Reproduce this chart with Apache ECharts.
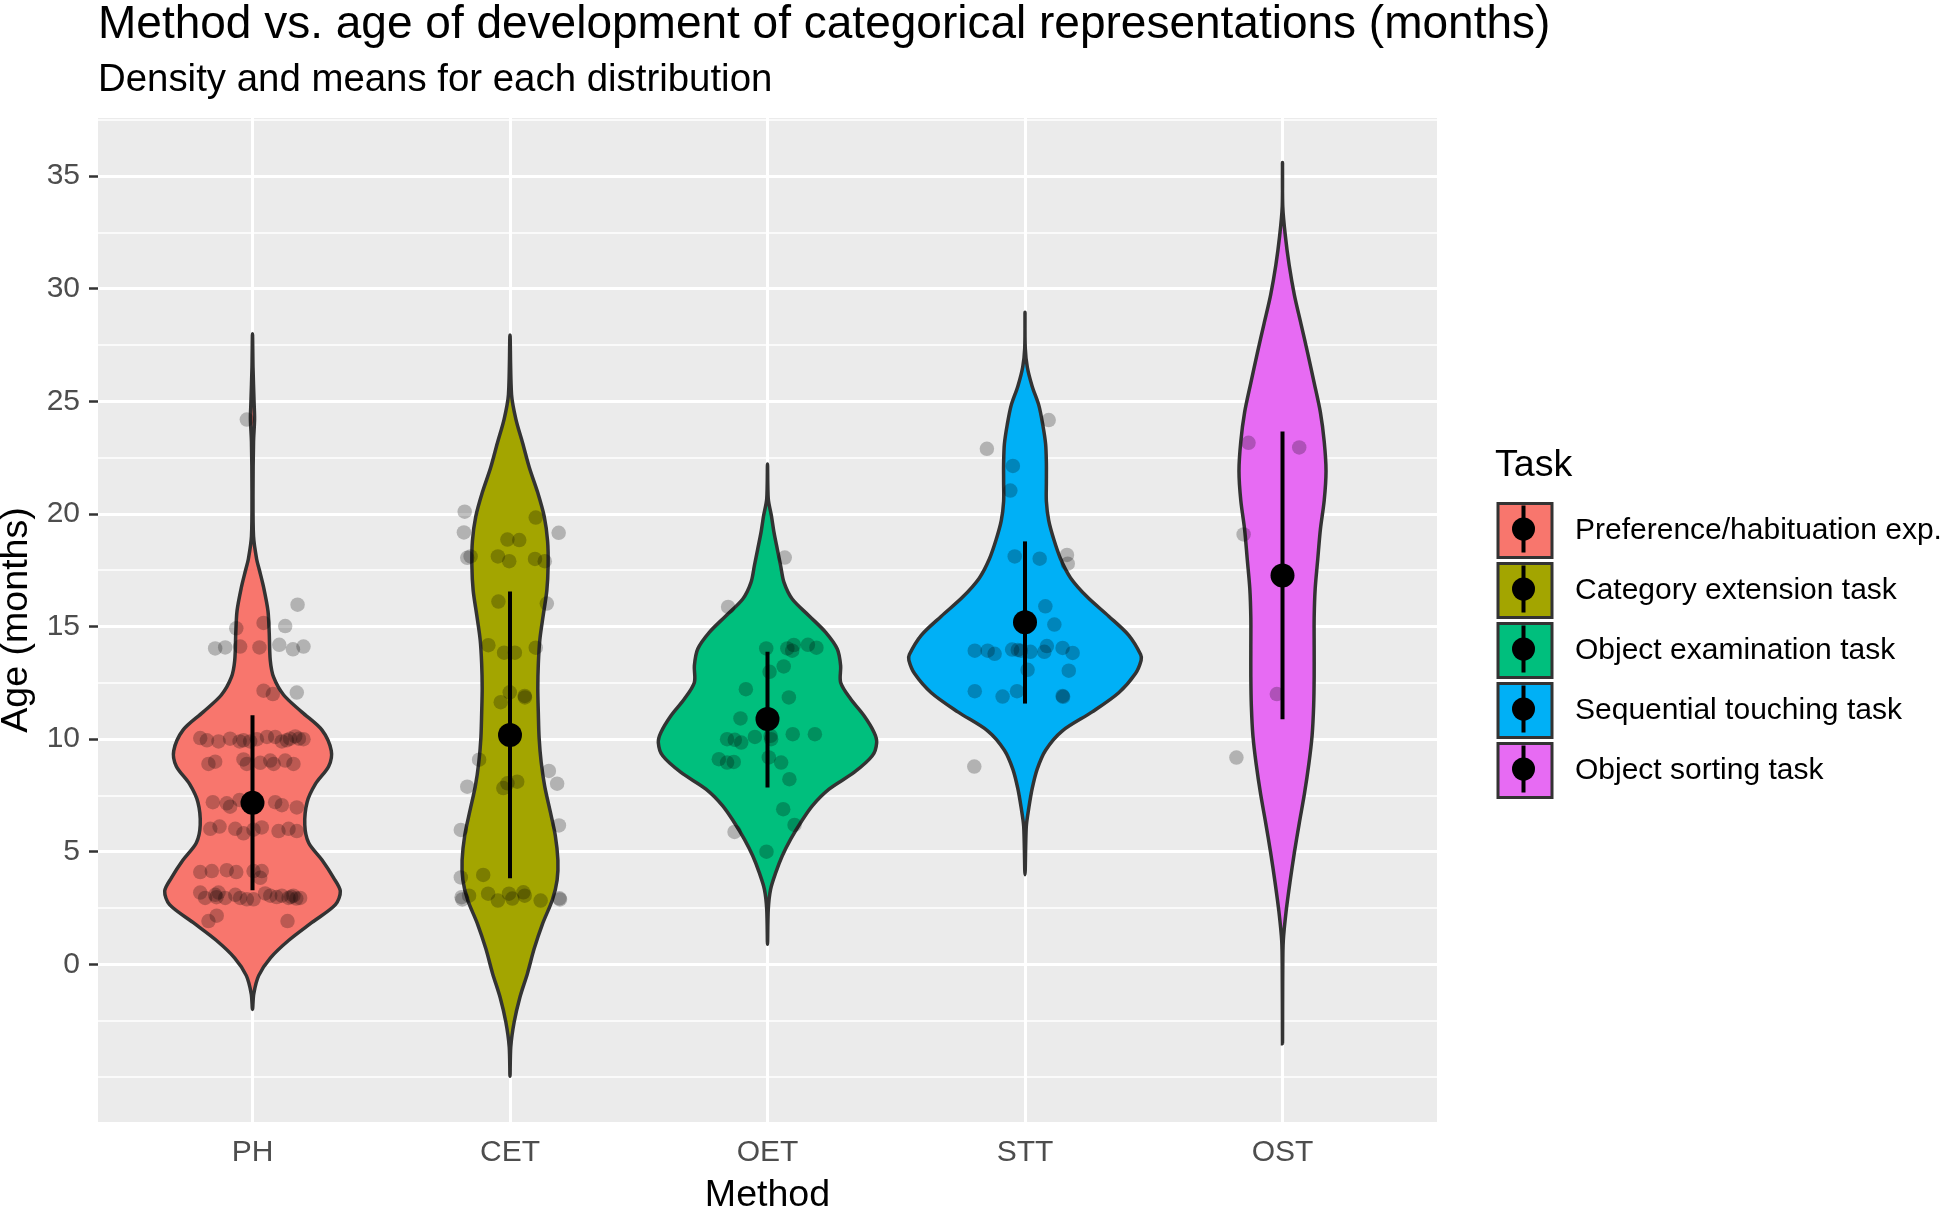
<!DOCTYPE html>
<html><head><meta charset="utf-8">
<script src="https://cdn.jsdelivr.net/npm/echarts@6/dist/echarts.min.js"></script>
<style>html,body{margin:0;padding:0;background:#fff}#chart{width:1946px;height:1209px}</style>
</head><body><div id="chart"></div>
<script>
// ---------- data ----------
const categories = ['PH', 'CET', 'OET', 'STT', 'OST'];
const taskNames = ['Preference/habituation exp.', 'Category extension task', 'Object examination task', 'Sequential touching task', 'Object sorting task'];
const yTickValues = [0, 5, 10, 15, 20, 25, 30, 35];
const yMinorValues = [-5, -2.5, 2.5, 7.5, 12.5, 17.5, 22.5, 27.5, 32.5, 37.5];
const xTickValues = [1, 2, 3, 4, 5];

const meanAge = [7.17, 10.18, 10.89, 15.19, 17.27];
const lowerAge = [3.29, 3.82, 7.85, 11.58, 10.88];
const upperAge = [11.06, 16.55, 13.88, 18.78, 23.66];

// violin outlines: [age, half width in category units]
const phDensity = [[28.0,0],[26.5,0.002],[25.0,0.006],[24.2,0.008],[23.2,0.004],[21.0,0.002],[19.0,0.004],[18.0,0.016],[17.5,0.027],[16.7,0.044],[15.7,0.060],[14.7,0.065],[13.5,0.069],[12.75,0.082],[11.96,0.121],[11.2,0.192],[10.4,0.270],[9.48,0.306],[8.8,0.296],[8.0,0.244],[7.2,0.212],[6.2,0.203],[5.4,0.218],[4.63,0.270],[3.84,0.315],[3.25,0.341],[2.65,0.322],[1.86,0.231],[1.07,0.141],[0.28,0.069],[-0.5,0.024],[-1.3,0.005],[-2.0,0]];
const cetDensity = [[27.95,0],[25.3,0.006],[24.2,0.023],[23.15,0.049],[22.06,0.075],[20.97,0.107],[19.88,0.133],[18.79,0.146],[17.7,0.148],[16.6,0.143],[15.5,0.129],[14.43,0.116],[13.34,0.110],[12.25,0.108],[11.16,0.110],[10.07,0.113],[8.98,0.121],[7.89,0.135],[6.8,0.156],[5.71,0.176],[4.62,0.186],[3.75,0.183],[2.88,0.165],[1.79,0.126],[0.7,0.094],[-0.39,0.068],[-1.48,0.038],[-2.57,0.016],[-3.66,0.003],[-4.97,0]];
const oetDensity = [[22.22,0],[20.67,0.003],[19.93,0.015],[19.19,0.025],[18.44,0.038],[17.7,0.051],[16.96,0.064],[16.22,0.096],[15.48,0.161],[14.74,0.226],[14.0,0.271],[13.26,0.284],[12.52,0.284],[11.78,0.323],[11.04,0.375],[10.3,0.414],[9.85,0.424],[9.26,0.407],[8.52,0.336],[7.78,0.239],[7.04,0.174],[6.3,0.129],[5.56,0.090],[4.81,0.057],[4.07,0.032],[3.33,0.012],[2.44,0.003],[0.89,0]];
const sttDensity = [[28.95,0],[27.36,0.001],[26.51,0.009],[25.66,0.028],[24.81,0.054],[23.96,0.069],[23.11,0.080],[22.26,0.083],[21.41,0.083],[20.56,0.083],[19.71,0.092],[18.86,0.112],[18.01,0.138],[17.16,0.177],[16.31,0.242],[15.46,0.325],[14.61,0.403],[13.76,0.449],[13.5,0.451],[12.91,0.429],[12.06,0.364],[11.21,0.261],[10.36,0.144],[9.51,0.080],[8.66,0.047],[7.81,0.028],[6.96,0.015],[6.11,0.005],[3.98,0]];
const ostDensity = [[35.6,0],[33.65,0.001],[32.35,0.011],[31.04,0.026],[29.73,0.046],[28.43,0.072],[27.13,0.098],[25.82,0.123],[24.52,0.147],[23.21,0.162],[21.91,0.169],[20.6,0.162],[19.3,0.147],[18.0,0.137],[16.69,0.127],[15.39,0.123],[14.08,0.123],[12.78,0.123],[11.48,0.121],[10.17,0.115],[8.87,0.102],[7.56,0.085],[6.26,0.065],[4.96,0.046],[3.65,0.029],[2.35,0.014],[1.04,0.003],[-0.26,0.001],[-3.52,0]];

// jittered observations: [horizontal jitter in category units, age]
const phPoints = [[-0.022,24.19],[0.175,15.97],[-0.063,14.92],[0.043,15.16],[0.127,15.02],[-0.145,14.03],[-0.106,14.07],[-0.048,14.11],[0.027,14.07],[0.104,14.19],[0.157,13.99],[0.198,14.11],[0.043,12.15],[0.079,12.0],[0.172,12.07],[-0.203,10.05],[-0.177,9.95],[-0.132,9.9],[-0.087,10.02],[-0.050,9.9],[-0.035,9.95],[-0.009,9.9],[0.017,10.0],[0.056,10.1],[0.088,10.1],[0.114,9.9],[0.133,9.95],[0.146,10.02],[0.166,10.12],[0.180,10.02],[0.198,10.0],[-0.171,8.9],[-0.145,9.0],[-0.035,9.1],[-0.022,8.9],[0.030,8.95],[0.069,9.05],[0.082,8.9],[0.127,9.05],[0.159,8.9],[-0.154,7.2],[-0.100,7.15],[-0.087,7.0],[-0.050,7.3],[0.088,7.2],[0.114,7.07],[0.172,6.97],[-0.164,6.02],[-0.128,6.12],[-0.067,6.02],[-0.035,5.82],[0.004,5.98],[0.036,6.08],[0.101,5.92],[0.140,6.02],[0.172,5.92],[-0.203,4.1],[-0.158,4.14],[-0.100,4.18],[-0.063,4.1],[0.004,4.14],[0.036,4.14],[0.030,3.84],[-0.203,3.19],[-0.184,2.95],[-0.145,3.09],[-0.132,3.19],[-0.106,2.95],[-0.067,3.09],[-0.048,2.95],[-0.022,2.89],[0.004,2.89],[0.049,3.15],[0.069,3.05],[0.094,2.99],[0.114,3.05],[0.140,2.95],[0.159,3.05],[0.185,2.95],[-0.140,2.98],[0.170,2.92],[0.150,3.0],[-0.139,2.16],[-0.171,1.92],[0.136,1.92]];
const cetPoints = [[-0.176,20.1],[-0.179,19.18],[0.100,19.84],[0.189,19.16],[-0.010,18.86],[0.036,18.84],[-0.166,18.05],[-0.153,18.11],[-0.047,18.11],[-0.003,17.9],[0.097,18.0],[0.135,17.9],[-0.045,16.11],[0.143,16.02],[-0.084,14.17],[-0.023,13.84],[0.019,13.84],[0.100,14.06],[-0.036,11.64],[-0.001,12.08],[0.057,11.92],[0.058,11.85],[-0.120,9.09],[0.151,8.59],[0.183,8.02],[-0.166,7.89],[-0.026,7.83],[-0.010,8.04],[0.028,8.11],[-0.191,5.97],[0.190,6.17],[-0.191,3.86],[-0.104,3.97],[-0.185,2.88],[-0.188,2.98],[-0.159,3.05],[-0.085,3.14],[-0.047,2.83],[-0.004,3.14],[0.009,2.92],[0.052,3.2],[0.057,3.05],[0.119,2.83],[0.194,2.88],[0.192,2.93]];
const oetPoints = [[0.067,18.06],[-0.153,15.87],[-0.005,14.03],[0.077,14.03],[0.096,13.93],[0.102,14.18],[0.157,14.19],[0.190,14.06],[0.063,13.23],[0.008,12.99],[-0.084,12.22],[0.083,11.85],[-0.105,10.92],[-0.157,10.0],[-0.127,9.97],[-0.102,9.85],[-0.049,10.1],[0.012,10.15],[0.014,10.0],[0.098,10.22],[0.184,10.22],[-0.189,9.11],[-0.157,8.96],[-0.131,8.99],[0.005,9.19],[0.053,8.96],[0.085,8.22],[0.061,6.89],[0.105,6.19],[-0.128,5.88],[-0.004,5.0]];
const sttPoints = [[0.092,24.17],[-0.148,22.89],[-0.047,22.13],[-0.057,21.04],[-0.040,18.11],[0.057,18.01],[0.163,18.18],[0.166,17.79],[0.079,15.9],[0.114,15.09],[-0.195,13.93],[-0.145,13.93],[-0.118,13.79],[-0.050,13.98],[-0.028,13.96],[-0.016,13.93],[0.021,13.88],[0.075,13.88],[0.085,14.13],[0.146,14.05],[0.185,13.83],[0.010,13.08],[0.170,13.04],[-0.195,12.13],[-0.087,11.89],[-0.031,12.13],[0.146,11.92],[0.148,11.88],[-0.197,8.78]];
const ostPoints = [[-0.132,23.16],[0.065,22.95],[-0.151,19.09],[-0.022,12.0],[-0.179,9.18]];

// ---------- styling ----------
const palette = ['#F8766D', '#A3A500', '#00BF7D', '#00B0F6', '#E76BF3'];
const FONT = '"Liberation Sans", Arial, Helvetica, sans-serif';
const densities = [phDensity, cetDensity, oetDensity, sttDensity, ostDensity];
const pointSets = [phPoints, cetPoints, oetPoints, sttPoints, ostPoints];

const chart = echarts.init(document.getElementById('chart'), null, {renderer: 'canvas'});

function violinSeries(i) {
  const outline = densities[i];
  const center = i + 1;
  return {
    name: taskNames[i],
    type: 'custom',
    z: 10,
    silent: true,
    itemStyle: {color: palette[i]},
    data: [[center, meanAge[i]]],
    encode: {x: 0, y: 1},
    renderItem: function (params, api) {
      const right = outline.map(r => api.coord([center + r[1], r[0]]));
      const inner = outline.slice(1, outline.length - 1).reverse();
      const left = inner.map(r => api.coord([center - r[1], r[0]]));
      return {
        type: 'polygon',
        shape: {points: right.concat(left), smooth: 0.3},
        style: {fill: palette[i], stroke: '#333333', lineWidth: 3.5}
      };
    }
  };
}

const jitterData = [];
pointSets.forEach((set, i) => set.forEach(p => jitterData.push([i + 1 + p[0], p[1]])));

const meanData = categories.map((c, i) => [i + 1, meanAge[i], lowerAge[i], upperAge[i]]);

const gridLines = []
  .concat(yTickValues.map(v => ({yAxis: v, lineStyle: {width: 3}})))
  .concat(yMinorValues.map(v => ({yAxis: v, lineStyle: {width: 1.5}})))
  .concat(xTickValues.map(v => ({xAxis: v, lineStyle: {width: 3}})));

const KEY_PITCH = 60;
const KEY_TOP = 502;
const legendGraphics = [{
  type: 'text', left: 1495, top: 447, z: 100,
  style: {text: 'Task', font: '37.6px ' + FONT, fill: '#000'}
}];
taskNames.forEach((t, i) => {
  const cy = KEY_TOP + 27 + KEY_PITCH * i;
  legendGraphics.push({type: 'line', z: 100, shape: {x1: 1523.5, y1: cy - 23.5, x2: 1523.5, y2: cy + 23.5}, style: {stroke: '#000', lineWidth: 4}});
  legendGraphics.push({type: 'circle', z: 101, shape: {cx: 1523.5, cy: cy, r: 11.5}, style: {fill: '#000'}});
});

const option = {
  animation: false,
  backgroundColor: '#ffffff',
  textStyle: {fontFamily: FONT},
  title: [
    {text: 'Method vs. age of development of categorical representations (months)', left: 98, top: 10, padding: 0,
      textStyle: {fontSize: 46, fontWeight: 'normal', color: '#000', lineHeight: 30, fontFamily: FONT}},
    {text: 'Density and means for each distribution', left: 98, top: 61.5, padding: 0,
      textStyle: {fontSize: 38.4, fontWeight: 'normal', color: '#000', lineHeight: 38, fontFamily: FONT}}
  ],
  grid: {left: 98, top: 118, width: 1339, height: 1004, show: true, backgroundColor: '#EBEBEB', borderWidth: 0, containLabel: false, outerBoundsMode: 'none'},
  legend: {
    orient: 'vertical', left: 1496.5, top: KEY_TOP, padding: 0,
    itemWidth: 54, itemHeight: 54, itemGap: 3, selectedMode: false,
    textStyle: {fontSize: 30, color: '#000', fontFamily: FONT, padding: [0, 0, 0, 18]},
    data: taskNames.map((t, i) => ({name: t, icon: 'rect', itemStyle: {color: palette[i], borderColor: '#333333', borderWidth: 3}}))
  },
  xAxis: {
    type: 'value', min: 0.4, max: 5.6,
    name: 'Method', nameLocation: 'middle', nameGap: 55,
    nameTextStyle: {fontSize: 37.6, color: '#000', fontFamily: FONT},
    axisLine: {show: false},
    axisTick: {show: true, length: 9, lineStyle: {color: '#333333', width: 2.5}, customValues: xTickValues},
    axisLabel: {show: true, margin: 16, fontSize: 30, color: '#4D4D4D', fontFamily: FONT, customValues: xTickValues,
      formatter: v => (Number.isInteger(v) && v >= 1 && v <= 5) ? categories[v - 1] : ''},
    splitLine: {show: false}
  },
  yAxis: {
    type: 'value', min: -7.0, max: 37.58,
    name: 'Age (months)', nameLocation: 'middle', nameGap: 57, nameRotate: 90,
    nameTextStyle: {fontSize: 37.6, color: '#000', fontFamily: FONT},
    axisLine: {show: false},
    axisTick: {show: true, length: 9, lineStyle: {color: '#333333', width: 2.5}, customValues: yTickValues},
    axisLabel: {show: true, margin: 18, fontSize: 30, color: '#4D4D4D', fontFamily: FONT, customValues: yTickValues,
      formatter: v => (v >= 0 && v % 5 === 0) ? String(v) : ''},
    splitLine: {show: false}
  },
  graphic: legendGraphics,
  series: [
    {
      name: 'grid', type: 'line', data: [], z: 1, silent: true,
      markLine: {silent: true, z: 1, symbol: ['none', 'none'], label: {show: false},
        lineStyle: {color: '#ffffff', type: 'solid'}, emphasis: {disabled: true}, data: gridLines}
    },
    violinSeries(0), violinSeries(1), violinSeries(2), violinSeries(3), violinSeries(4),
    {
      name: 'observations', type: 'scatter', z: 20, silent: true, symbol: 'circle', symbolSize: 14.5,
      itemStyle: {color: 'rgba(0,0,0,0.3)'}, data: jitterData
    },
    {
      name: 'means', type: 'custom', z: 30, silent: true, data: meanData,
      encode: {x: 0, y: 1},
      renderItem: function (params, api) {
        const x = api.value(0);
        const m = api.coord([x, api.value(1)]);
        const lo = api.coord([x, api.value(2)]);
        const hi = api.coord([x, api.value(3)]);
        return {type: 'group', children: [
          {type: 'line', shape: {x1: lo[0], y1: lo[1], x2: hi[0], y2: hi[1]}, style: {stroke: '#000', lineWidth: 4}},
          {type: 'circle', shape: {cx: m[0], cy: m[1], r: 12}, style: {fill: '#000'}}
        ]};
      }
    }
  ]
};
chart.setOption(option);
</script></body></html>
